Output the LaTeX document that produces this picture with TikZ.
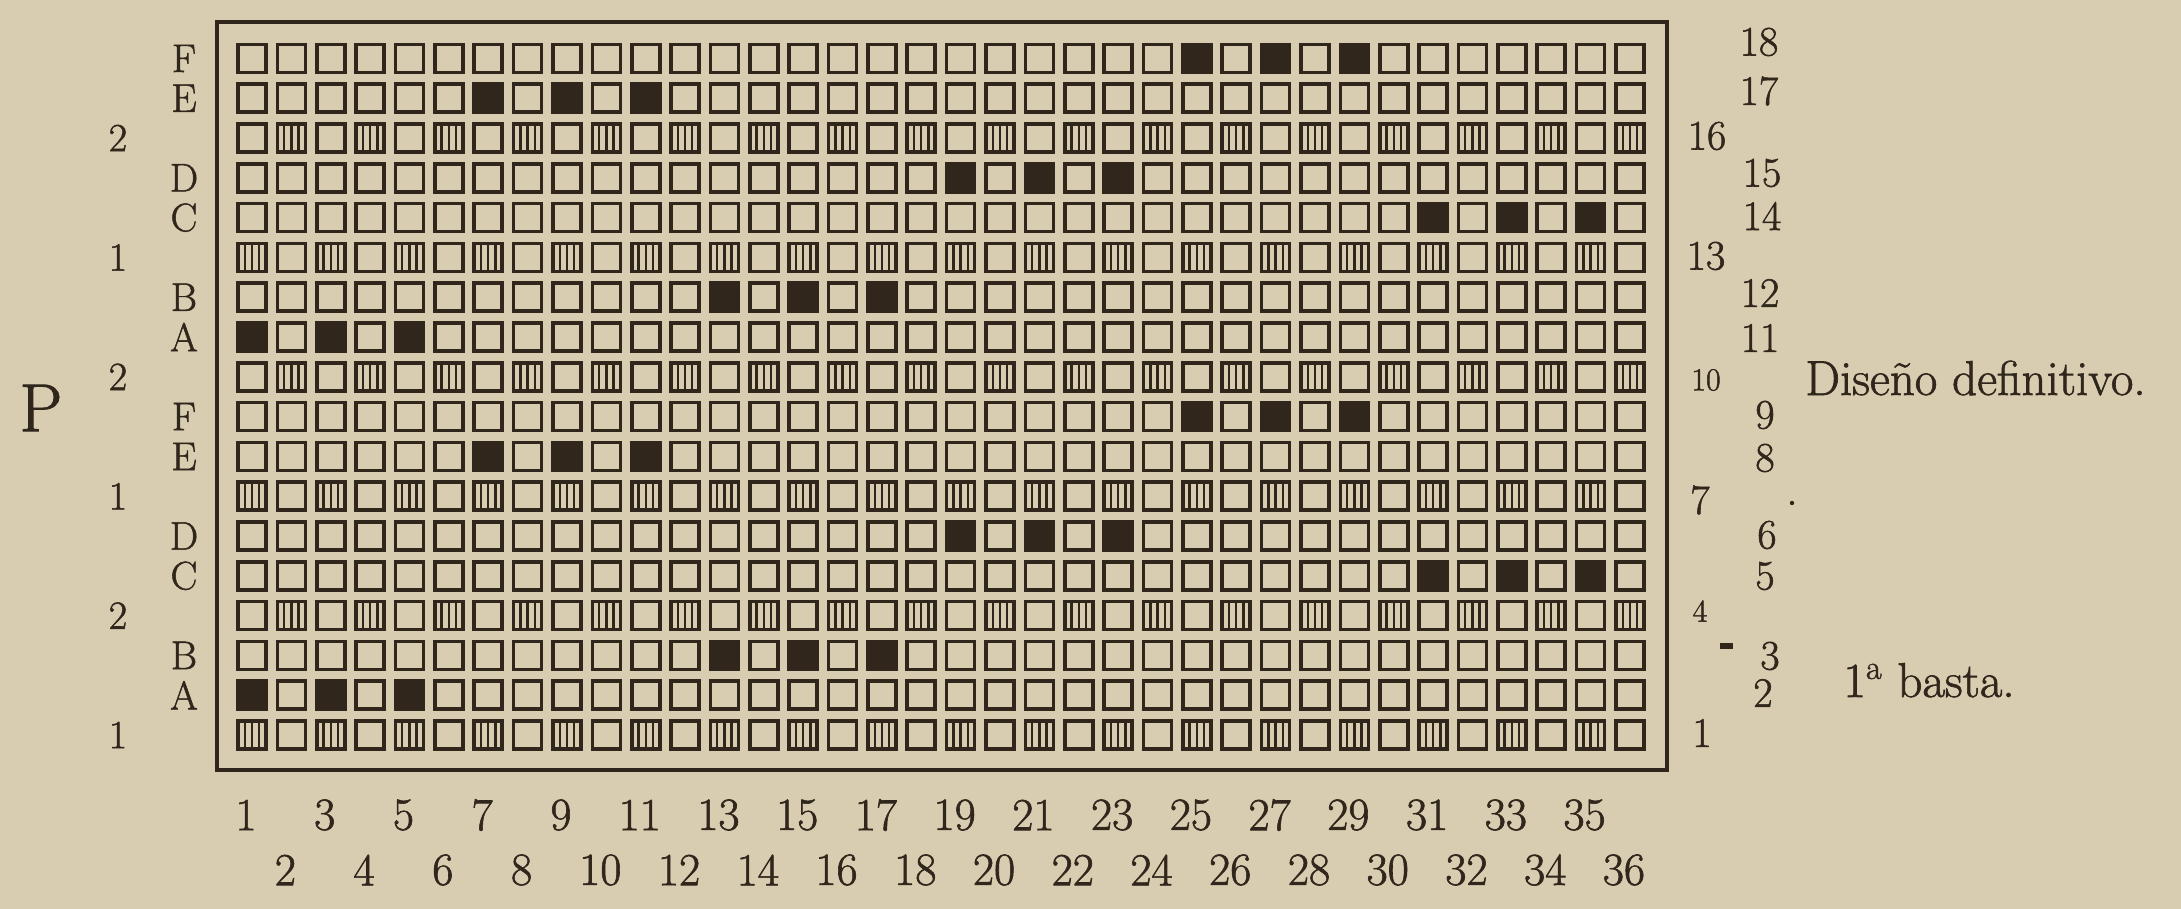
\documentclass[tikz,border=0pt]{standalone}
\usepackage{fontspec}
\setmainfont{Latin Modern Roman}[FakeBold=1.3]
\definecolor{paper}{RGB}{216,205,176}
\definecolor{ink}{RGB}{48,38,28}
\tikzset{
  cell/.style={draw=ink, line width=1.8pt, minimum size=14pt, inner sep=0pt, fill=paper},
  filledcell/.style={cell, fill=ink},
  bindcell/.style={cell, path picture={
      \foreach \dx in {-3.6pt,0pt,3.6pt}
        \draw[ink, line width=1.2pt] ([xshift=\dx]path picture bounding box.north) -- ([xshift=\dx]path picture bounding box.south);}},
  frame/.style={draw=ink, line width=1.7pt},
  lab/.style={text=ink, inner sep=0pt, font=\fontsize{21}{25}\selectfont},
  smalllab/.style={text=ink, inner sep=0pt, font=\fontsize{16}{19}\selectfont},
  letterlab/.style={text=ink, inner sep=0pt, font=\fontsize{20}{24}\selectfont},
  axislab/.style={text=ink, inner sep=0pt, font=\fontsize{23}{27}\selectfont},
  titlelab/.style={text=ink, inner sep=0pt, anchor=base west, font=\fontsize{24.5}{29}\selectfont},
}
\begin{document}
\begin{tikzpicture}[x=0.5pt,y=-0.5pt]
\fill[paper] (0,0) rectangle (2181,909);
\useasboundingbox (0,0) rectangle (2181,909);
% frame
\draw[frame] (217,22) rectangle (1667,770);
% grid of cells
\foreach \r in {1,...,18}{
  \pgfmathsetmacro\cy{735-(\r-1)*39.8}
  \pgfmathtruncatemacro\m{mod(\r-1,3)}
  \pgfmathtruncatemacro\k{(\r-1)/3}
  \pgfmathtruncatemacro\s{{0,1,13,0,31,19,0,7,25,0,1,13,0,31,19,0,7,25}[\r-1]}
  \foreach \c in {1,...,36}{
    \pgfmathsetmacro\cx{252+(\c-1)*39.37}
    \ifnum\m=0
      \pgfmathtruncatemacro\b{mod(\c+\k,2)}
      \ifnum\b=1
        \node[bindcell] (s-\r-\c) at (\cx,\cy) {};
      \else
        \node[cell] (s-\r-\c) at (\cx,\cy) {};
      \fi
    \else
      \pgfmathtruncatemacro\f{and(and(\c>=\s,\c<=\s+4),mod(\c-\s,2)==0)}
      \ifnum\f=1
        \node[filledcell] (s-\r-\c) at (\cx,\cy) {};
      \else
        \node[cell] (s-\r-\c) at (\cx,\cy) {};
      \fi
    \fi
  }
}
% left letter labels
\foreach \r/\t in {18/F,17/E,15/D,14/C,12/B,11/A,9/F,8/E,6/D,5/C,3/B,2/A}{
  \pgfmathsetmacro\cy{735-(\r-1)*39.8}
  \node[letterlab] (L-\r) at (184,\cy) {\t};
}
\foreach \r/\t in {16/2,13/1,10/2,7/1,4/2,1/1}{
  \pgfmathsetmacro\cy{735-(\r-1)*39.8}
  \node[letterlab] (L-\r) at (118,\cy) {\t};
}
\node[text=ink, font=\fontsize{34}{40}\selectfont, inner sep=0pt] (P) at (41,408) {P};
% right row numbers
\foreach \n/\px/\py in {18/1759/42,17/1759/91,15/1762/173,14/1762/216,12/1760/293,11/1760/338,9/1765/415,8/1765/458,6/1767/535,5/1765/576,3/1770/656,2/1763/693,16/1707/136,13/1706/256,7/1700/500,1/1702/733}{
  \node[lab] (R-\n) at (\px,\py) {\n};
}
\node[smalllab] (R-10) at (1706,380) {10};
\node[smalllab] (R-4) at (1700,611) {4};
\fill[ink] (1720,643) rectangle (1733,649);
\fill[ink] (1792,503) circle (2.2);
% bottom column numbers
\foreach \c in {1,3,...,35}{
  \pgfmathsetmacro\cx{252+(\c-1)*39.37-6}
  \node[axislab] (B-\c) at (\cx,815) {\c};
}
\foreach \c in {2,4,...,36}{
  \pgfmathsetmacro\cx{252+(\c-1)*39.37-6}
  \node[axislab] (B-\c) at (\cx,870) {\c};
}
% captions
\node[titlelab] (diseno) at (1805,395) {Diseño definitivo.};
\node[titlelab] (basta) at (1843,697) {1\textsuperscript{a} basta.};
\end{tikzpicture}
\end{document}
